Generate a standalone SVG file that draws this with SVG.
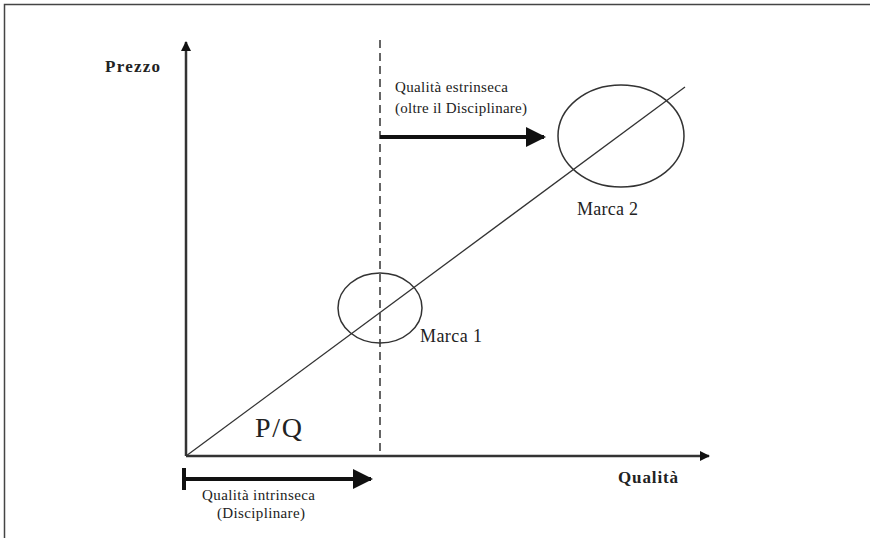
<svg xmlns="http://www.w3.org/2000/svg" width="870" height="538" viewBox="0 0 870 538">
<defs>
<style>
.t{font-family:"Liberation Serif","Times New Roman",serif;fill:#222}
.s{font-size:15px}
.m{font-size:18px}
.b{font-size:17px;font-weight:bold}
.ln{stroke:#333;fill:none}
</style>
<marker id="ah" viewBox="0 0 10 10" refX="9" refY="5" markerWidth="10" markerHeight="10" markerUnits="userSpaceOnUse" orient="auto"><path d="M0,0 L10,5 L0,10 z" fill="#111"/></marker>
<marker id="ahb" viewBox="0 0 10 10" refX="9" refY="5" markerWidth="5" markerHeight="5" orient="auto"><path d="M0,0 L10,5 L0,10 z" fill="#111"/></marker>
</defs>
<rect width="870" height="538" fill="#fff"/>
<path d="M4.5,538 V4.5 H870" stroke="#444" stroke-width="1.5" fill="none"/>
<g id="connectors">
<line x1="186" y1="456" x2="186" y2="42" class="ln" stroke-width="2.5" marker-end="url(#ah)"/>
<line x1="186" y1="456" x2="709" y2="456" class="ln" stroke-width="2.5" marker-end="url(#ah)"/>
<line x1="186" y1="456" x2="685" y2="87" class="ln" stroke-width="1.3"/>
<line x1="380" y1="40" x2="380" y2="456" class="ln" stroke-width="1.5" stroke-dasharray="8,5"/>
<line x1="380" y1="137" x2="544" y2="137" stroke="#111" stroke-width="4" marker-end="url(#ahb)"/>
<line x1="186" y1="479" x2="371" y2="479" stroke="#111" stroke-width="4" marker-end="url(#ahb)"/>
<line x1="184" y1="468" x2="184" y2="490" stroke="#111" stroke-width="4"/>
</g>
<g id="marca2"><ellipse cx="621" cy="136" rx="63" ry="51" class="ln" stroke-width="1.5"/><text x="577" y="215" class="t m" textLength="61">Marca 2</text></g>
<g id="marca1"><ellipse cx="380" cy="308" rx="42" ry="35" class="ln" stroke-width="1.5"/><text x="420" y="342" class="t m" textLength="62">Marca 1</text></g>
<g id="prezzo"><text x="105" y="72" class="t b" textLength="55">Prezzo</text></g>
<g id="qualita"><text x="618" y="483" class="t b" textLength="60">Qualità</text></g>
<g id="estrinseca"><text x="395" y="92" class="t s" textLength="113">Qualità estrinseca</text><text x="395" y="113" class="t s" textLength="132">(oltre il Disciplinare)</text></g>
<g id="intrinseca"><text x="202" y="500" class="t s" textLength="113">Qualità intrinseca</text><text x="217" y="518" class="t s" textLength="88">(Disciplinare)</text></g>
<g id="pq"><text x="255" y="437" class="t" style="font-size:28px" textLength="47">P/Q</text></g>
</svg>
